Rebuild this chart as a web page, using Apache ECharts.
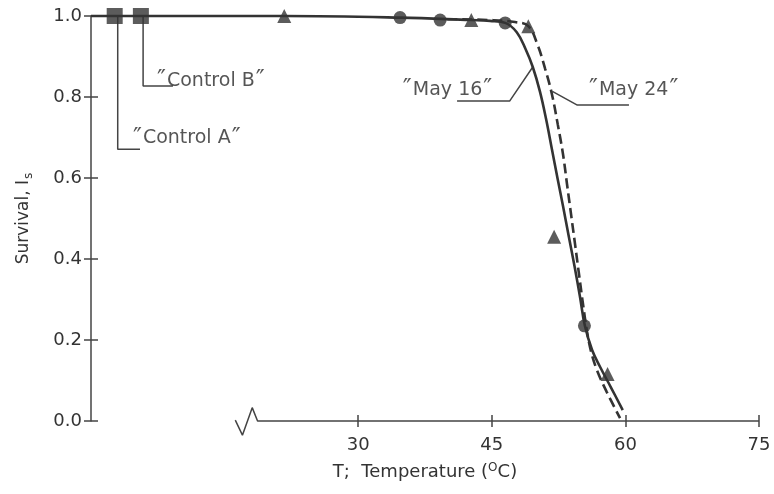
<!DOCTYPE html>
<html>
<head>
<meta charset="utf-8">
<script src="https://cdn.jsdelivr.net/npm/echarts@6/dist/echarts.min.js"></script>
<style>
  html, body { margin: 0; padding: 0; background: #fff; }
  #chart { width: 774px; height: 494px; }
</style>
</head>
<body>
<div id="chart"></div>
<script>
// Survival I_s against temperature T (°C)
const xTicks = [30, 45, 60, 75];

// Controls (plotted left of the axis break)
const controls = [[2.66, 1.0], [5.6, 1.0]];

// Measured points
const may16Points = [[34.7, 0.996], [39.2, 0.990], [46.5, 0.983], [55.4, 0.235]];
const may24Points = [[21.7, 1.0], [42.7, 0.990], [49.1, 0.975], [52.0, 0.455], [58.0, 0.116]];

// Fitted curves
const may16Curve = [
  [0, 1.0], [21.7, 1.0], [34.7, 0.996], [42.6, 0.990], [44.8, 0.988], [46.5, 0.983],
  [47.8, 0.960], [48.8, 0.918], [49.6, 0.874], [50.4, 0.814], [51.1, 0.745],
  [51.75, 0.671], [52.4, 0.597], [53.0, 0.530], [53.65, 0.455], [54.3, 0.381],
  [54.9, 0.307], [55.45, 0.235], [56.25, 0.176], [57.15, 0.134], [58.4, 0.082],
  [59.7, 0.027]
];
const may24Curve = [
  [40, 0.992], [44.8, 0.990], [47.6, 0.985], [49.1, 0.975], [50.1, 0.931],
  [51.0, 0.869], [51.75, 0.807], [52.4, 0.733], [53.0, 0.658], [53.45, 0.584],
  [53.9, 0.510], [54.35, 0.436], [54.8, 0.361], [55.25, 0.287], [55.7, 0.220],
  [56.15, 0.171], [56.8, 0.126], [57.9, 0.072], [59.4, 0.007]
];

// Temperature axis with its break mark
const tempAxisLine = [[16.2, 0.002], [17.0, -0.035], [18.1, 0.033], [18.7, 0], [75, 0]];

// Annotation leaders and text anchors
const leaderControlA = [[3.0, 1.0], [3.0, 0.671], [5.5, 0.671]];
const leaderControlB = [[5.85, 1.0], [5.85, 0.827], [9.2, 0.827]];
const leaderMay16 = [[41.1, 0.790], [47.0, 0.790], [49.6, 0.874]];
const leaderMay24 = [[51.8, 0.814], [54.6, 0.780], [60.4, 0.780]];
const noteTexts = ['Control B', 'Control A', 'May 16', 'May 24'];
const noteAnchors = [[7.3, 0.840], [4.6, 0.698], [34.9, 0.818], [55.8, 0.818]];

const ink = '#333';
const axisInk = '#444';
const font = 'DejaVu Sans';

const chart = echarts.init(document.getElementById('chart'), null, { renderer: 'canvas' });

function leader(data) {
  return {
    type: 'line', data: data, symbol: 'none', silent: true, clip: false,
    lineStyle: { color: axisInk, width: 1.5 }, z: 3
  };
}

chart.setOption({
  animation: false,
  backgroundColor: '#fff',
  grid: { left: 91, right: 15, top: 16, bottom: 73 },
  xAxis: [
    {
      type: 'value', min: 0, max: 75,
      axisLine: { show: false },
      splitLine: { show: false },
      axisTick: { show: true, customValues: xTicks, length: 6, lineStyle: { color: axisInk, width: 1.5 } },
      axisLabel: { customValues: xTicks, color: ink, fontFamily: font, fontSize: 18, margin: 15 },
      name: 'T;  Temperature ({sup|O}C)',
      nameLocation: 'middle', nameGap: 41,
      nameTextStyle: {
        color: ink, fontFamily: font, fontSize: 18,
        rich: { sup: { fontFamily: font, fontSize: 12, color: ink, verticalAlign: 'top', padding: [0, 0, 8, 0] } }
      }
    },
    {
      type: 'value', min: 0, max: 75, position: 'bottom',
      axisLine: { show: false }, splitLine: { show: false },
      axisTick: { show: true, inside: true, customValues: xTicks, length: 6, lineStyle: { color: axisInk, width: 1.5 } },
      axisLabel: { show: false }
    }
  ],
  yAxis: [
    {
      type: 'value', min: 0, max: 1, interval: 0.2,
      axisLine: { show: true, lineStyle: { color: axisInk, width: 1.5 } },
      axisTick: { show: true, length: 7, lineStyle: { color: axisInk, width: 1.5 } },
      splitLine: { show: false },
      axisLabel: { color: ink, fontFamily: font, fontSize: 18, margin: 9, formatter: v => v.toFixed(1) },
      name: 'Survival, I{sub|s}',
      nameLocation: 'middle', nameGap: 56, nameRotate: 90,
      nameTextStyle: {
        color: ink, fontFamily: font, fontSize: 17,
        rich: { sub: { fontFamily: font, fontSize: 12, color: ink, verticalAlign: 'bottom', padding: [10, 0, 0, 1] } }
      }
    },
    {
      type: 'value', min: 0, max: 1, interval: 0.2, position: 'left',
      axisLine: { show: false }, splitLine: { show: false },
      axisTick: { show: true, inside: true, length: 7, lineStyle: { color: axisInk, width: 1.5 } },
      axisLabel: { show: false }
    }
  ],
  series: [
    {
      type: 'line', data: tempAxisLine, symbol: 'none', silent: true, clip: false,
      lineStyle: { color: axisInk, width: 1.5 }, z: 1
    },
    {
      name: 'May 16 fit', type: 'line', data: may16Curve, symbol: 'none', smooth: 0.4,
      clip: false, lineStyle: { color: ink, width: 2.6 }, z: 4
    },
    {
      name: 'May 24 fit', type: 'line', data: may24Curve, symbol: 'none', smooth: 0.4,
      clip: false, lineStyle: { color: ink, width: 2.6, type: [10, 5] }, z: 4
    },
    leader(leaderControlA),
    leader(leaderControlB),
    leader(leaderMay16),
    leader(leaderMay24),
    {
      name: 'Controls', type: 'scatter', data: controls, symbol: 'rect', symbolSize: 16,
      itemStyle: { color: ink }, clip: false, z: 5
    },
    {
      name: 'May 16', type: 'scatter', data: may16Points, symbol: 'circle', symbolSize: 13,
      itemStyle: { color: ink }, clip: false, z: 5
    },
    {
      name: 'May 24', type: 'scatter', data: may24Points, symbol: 'triangle', symbolSize: 14,
      itemStyle: { color: ink }, clip: false, z: 5
    },
    {
      type: 'scatter', symbolSize: 0, silent: true, clip: false, z: 6,
      data: noteAnchors.map((p, i) => ({ value: p, name: noteTexts[i] })),
      label: {
        show: true, position: 'right', distance: 0,
        formatter: p => '{q|\u2033}' + p.name + '{q|\u2033}',
        color: '#2a2a2a', fontFamily: font, fontSize: 19,
        rich: { q: { fontFamily: font, fontSize: 24, color: '#2a2a2a', padding: [0, 1, 0, 1] } }
      }
    }
  ]
});
</script>
</body>
</html>
